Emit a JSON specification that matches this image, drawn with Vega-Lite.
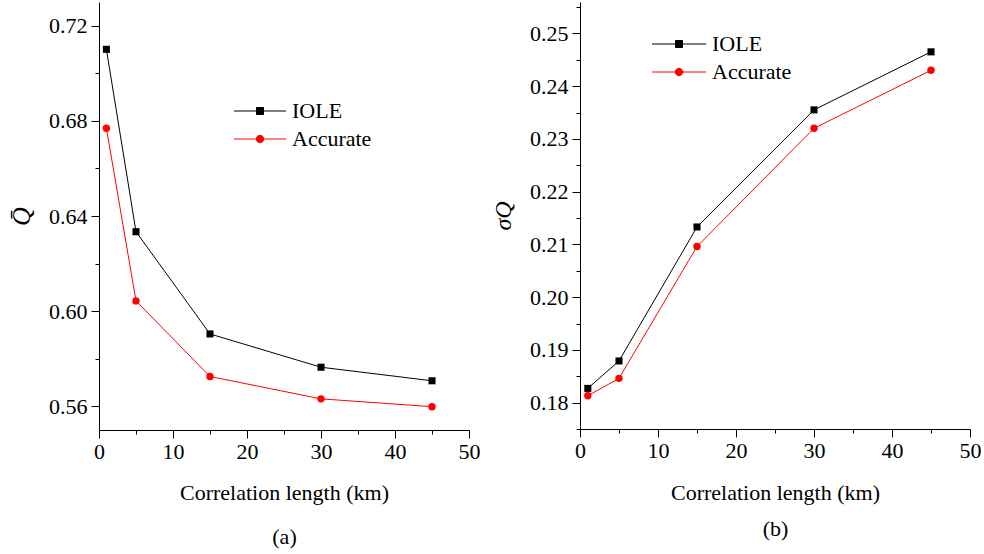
{
  "$schema": "https://vega.github.io/schema/vega-lite/v6.json",
  "background": "white",
  "padding": {"left": 8, "top": 2, "right": 2, "bottom": 2},
  "spacing": 11,
  "datasets": {
    "qmean": [
      {"length": 1, "series": "IOLE", "value": 0.7101},
      {"length": 5, "series": "IOLE", "value": 0.6334},
      {"length": 15, "series": "IOLE", "value": 0.5904},
      {"length": 30, "series": "IOLE", "value": 0.5764},
      {"length": 45, "series": "IOLE", "value": 0.5707},
      {"length": 1, "series": "Accurate", "value": 0.6769},
      {"length": 5, "series": "Accurate", "value": 0.6043},
      {"length": 15, "series": "Accurate", "value": 0.5725},
      {"length": 30, "series": "Accurate", "value": 0.5631},
      {"length": 45, "series": "Accurate", "value": 0.5598}
    ],
    "qstd": [
      {"length": 1, "series": "IOLE", "value": 0.1827},
      {"length": 5, "series": "IOLE", "value": 0.1879},
      {"length": 15, "series": "IOLE", "value": 0.2133},
      {"length": 30, "series": "IOLE", "value": 0.2355},
      {"length": 45, "series": "IOLE", "value": 0.2465},
      {"length": 1, "series": "Accurate", "value": 0.1813},
      {"length": 5, "series": "Accurate", "value": 0.1846},
      {"length": 15, "series": "Accurate", "value": 0.2096},
      {"length": 30, "series": "Accurate", "value": 0.2320},
      {"length": 45, "series": "Accurate", "value": 0.2430}
    ]
  },
  "resolve": {
    "scale": {"fill": "independent", "stroke": "independent", "shape": "independent"},
    "legend": {"fill": "independent", "stroke": "independent", "shape": "independent"}
  },
  "hconcat": [
    {
      "width": 370,
      "height": 428,
      "data": {"name": "qmean"},
      "encoding": {
        "x": {
          "field": "length", "type": "quantitative",
          "scale": {"domain": [0, 50], "nice": false},
          "axis": {
            "values": [0, 5, 10, 15, 20, 25, 30, 35, 40, 45, 50],
            "labelExpr": "datum.value % 10 === 0 ? datum.label : ''",
            "tickSize": {"condition": {"test": "datum.value % 10 === 0", "value": 8}, "value": 4},
            "labelFont": "Liberation Serif", "labelFontSize": 22,
            "titleFont": "Liberation Serif", "titleFontSize": 22, "titleFontWeight": "normal",
            "labelPadding": 3,
            "title": ["Correlation length (km)", "(a)"],
            "titleLineHeight": 44,
            "titlePadding": 20
          }
        },
        "y": {
          "field": "value", "type": "quantitative",
          "scale": {"domain": [0.55, 0.73], "nice": false, "zero": false},
          "axis": {
            "values": [0.56, 0.58, 0.60, 0.62, 0.64, 0.66, 0.68, 0.70, 0.72],
            "labelExpr": "round(datum.value*100) % 4 === 0 ? format(datum.value, '.2f') : ''",
            "tickSize": {"condition": {"test": "round(datum.value*100) % 4 === 0", "value": 8}, "value": 4},
            "labelFont": "Liberation Serif", "labelFontSize": 22,
            "titleFont": "Liberation Serif", "titleFontWeight": "normal",
            "labelPadding": 4,
            "title": "Q̄",
            "titleFontStyle": "italic",
            "titleFontSize": 26,
            "titlePadding": 14
          }
        }
      },
      "layer": [
        {"transform": [{"filter": "datum.series === 'IOLE'"}], "mark": {"type": "line", "strokeWidth": 1, "color": "black"}},
        {"transform": [{"filter": "datum.series === 'Accurate'"}], "mark": {"type": "line", "strokeWidth": 1, "color": "red"}},
        {"transform": [{"filter": "datum.series === 'IOLE'"}], "mark": {"type": "point", "shape": "square", "filled": true, "opacity": 1, "size": 50, "color": "black"}},
        {"transform": [{"filter": "datum.series === 'Accurate'"}], "mark": {"type": "point", "shape": "circle", "filled": true, "opacity": 1, "size": 55, "color": "red"}},
        {
          "mark": {"type": "point", "filled": true, "opacity": 0},
          "encoding": {
            "fill": {
              "field": "series", "type": "nominal",
              "scale": {"domain": ["IOLE", "Accurate"], "range": ["black", "red"]},
              "legend": {"orient": "none", "legendX": 150, "legendY": 98, "title": null, "symbolSize": 100, "symbolStrokeWidth": 1, "symbolOpacity": 1, "labelOffset": 21, "rowPadding": 6}
            },
            "stroke": {
              "field": "series", "type": "nominal",
              "scale": {"domain": ["IOLE", "Accurate"], "range": ["black", "red"]},
              "legend": {"orient": "none", "legendX": 150, "legendY": 98, "title": null, "symbolSize": 100, "symbolStrokeWidth": 1, "symbolOpacity": 1, "labelOffset": 21, "rowPadding": 6}
            },
            "shape": {
              "field": "series", "type": "nominal",
              "scale": {"domain": ["IOLE", "Accurate"], "range": ["M-5.2,0H5.2M-0.7,-0.7H0.7V0.7H-0.7Z", "M-5.2,0H5.2M0.75,0A0.75,0.75 0 1,1 -0.75,0A0.75,0.75 0 1,1 0.75,0Z"]},
              "legend": {"orient": "none", "legendX": 150, "legendY": 98, "title": null, "symbolSize": 100, "symbolStrokeWidth": 1, "symbolOpacity": 1, "labelOffset": 21, "rowPadding": 6}
            }
          }
        }
      ]
    },
    {
      "width": 390,
      "height": 427,
      "data": {"name": "qstd"},
      "encoding": {
        "x": {
          "field": "length", "type": "quantitative",
          "scale": {"domain": [0, 50], "nice": false},
          "axis": {
            "values": [0, 5, 10, 15, 20, 25, 30, 35, 40, 45, 50],
            "labelExpr": "datum.value % 10 === 0 ? datum.label : ''",
            "tickSize": {"condition": {"test": "datum.value % 10 === 0", "value": 8}, "value": 4},
            "labelFont": "Liberation Serif", "labelFontSize": 22,
            "titleFont": "Liberation Serif", "titleFontSize": 22, "titleFontWeight": "normal",
            "labelPadding": 3,
            "title": ["Correlation length (km)", "(b)"],
            "titleLineHeight": 36,
            "titlePadding": 21
          }
        },
        "y": {
          "field": "value", "type": "quantitative",
          "scale": {"domain": [0.175, 0.25595], "nice": false, "zero": false},
          "axis": {
            "values": [0.175, 0.18, 0.185, 0.19, 0.195, 0.2, 0.205, 0.21, 0.215, 0.22, 0.225, 0.23, 0.235, 0.24, 0.245, 0.25, 0.255],
            "labelExpr": "round(datum.value*1000) % 10 === 0 ? format(datum.value, '.2f') : ''",
            "tickSize": {"condition": {"test": "round(datum.value*1000) % 10 === 0", "value": 8}, "value": 4},
            "labelFontSize": {"condition": {"test": "round(datum.value*1000) % 10 === 0", "value": 22}, "value": 1},
            "labelFont": "Liberation Serif",
            "titleFont": "Liberation Serif", "titleFontWeight": "normal",
            "labelPadding": 4,
            "title": "σQ",
            "titleFontStyle": "italic",
            "titleFontSize": 24,
            "titlePadding": 14
          }
        }
      },
      "layer": [
        {"transform": [{"filter": "datum.series === 'IOLE'"}], "mark": {"type": "line", "strokeWidth": 1, "color": "black"}},
        {"transform": [{"filter": "datum.series === 'Accurate'"}], "mark": {"type": "line", "strokeWidth": 1, "color": "red"}},
        {"transform": [{"filter": "datum.series === 'IOLE'"}], "mark": {"type": "point", "shape": "square", "filled": true, "opacity": 1, "size": 50, "color": "black"}},
        {"transform": [{"filter": "datum.series === 'Accurate'"}], "mark": {"type": "point", "shape": "circle", "filled": true, "opacity": 1, "size": 55, "color": "red"}},
        {
          "mark": {"type": "point", "filled": true, "opacity": 0},
          "encoding": {
            "fill": {
              "field": "series", "type": "nominal",
              "scale": {"domain": ["IOLE", "Accurate"], "range": ["black", "red"]},
              "legend": {"orient": "none", "legendX": 88, "legendY": 31, "title": null, "symbolSize": 100, "symbolStrokeWidth": 1, "symbolOpacity": 1, "labelOffset": 22, "rowPadding": 6}
            },
            "stroke": {
              "field": "series", "type": "nominal",
              "scale": {"domain": ["IOLE", "Accurate"], "range": ["black", "red"]},
              "legend": {"orient": "none", "legendX": 88, "legendY": 31, "title": null, "symbolSize": 100, "symbolStrokeWidth": 1, "symbolOpacity": 1, "labelOffset": 22, "rowPadding": 6}
            },
            "shape": {
              "field": "series", "type": "nominal",
              "scale": {"domain": ["IOLE", "Accurate"], "range": ["M-5.4,0H5.4M-0.7,-0.7H0.7V0.7H-0.7Z", "M-5.4,0H5.4M0.75,0A0.75,0.75 0 1,1 -0.75,0A0.75,0.75 0 1,1 0.75,0Z"]},
              "legend": {"orient": "none", "legendX": 88, "legendY": 31, "title": null, "symbolSize": 100, "symbolStrokeWidth": 1, "symbolOpacity": 1, "labelOffset": 22, "rowPadding": 6}
            }
          }
        }
      ]
    }
  ],
  "config": {
    "view": {"stroke": null},
    "font": "Liberation Serif",
    "axis": {
      "grid": false,
      "domainColor": "black",
      "domainWidth": 1,
      "tickColor": "black",
      "tickWidth": 1,
      "labelColor": "black",
      "titleColor": "black",
      "labelOverlap": false,
      "labelFlush": false
    },
    "legend": {
      "labelFont": "Liberation Serif",
      "labelFontSize": 22,
      "labelColor": "black",
      "padding": 0
    }
  }
}
